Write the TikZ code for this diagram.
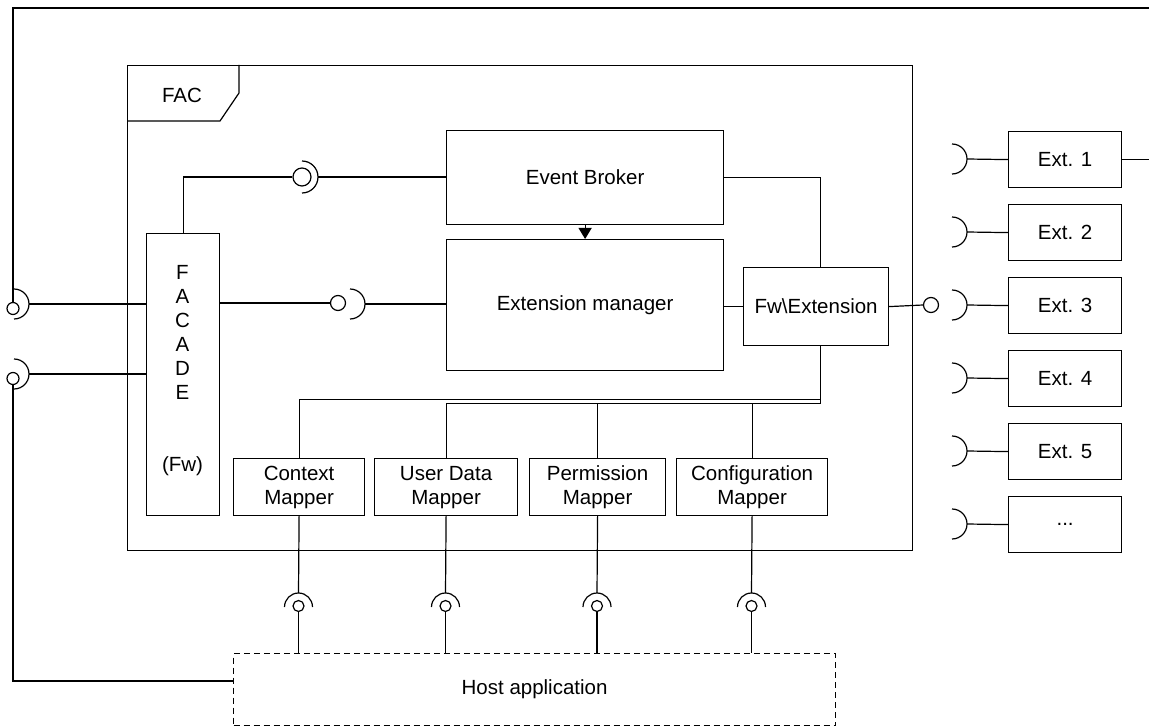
\documentclass[tikz,border=0pt]{standalone}
\usepackage{fontspec}
\setmainfont{Liberation Sans}
\usetikzlibrary{arrows.meta}
\newcommand\sockR[4]{\draw[ln] (#2,#3-#4) arc[start angle=90,end angle=-90,radius=#4pt]; \coordinate (#1) at (#2+#4,#3);}
\newcommand\sockU[4]{\draw[ln] (#2-#4,#3) arc[start angle=180,end angle=0,radius=#4pt]; \coordinate (#1) at (#2,#3-#4);}
\begin{document}
\begin{tikzpicture}[x=1pt,y=-1pt,
  ln/.style={line width=1.2pt},
  txt/.style={font=\fontsize{20.5}{24}\selectfont},
  box/.style={draw,ln,inner sep=0pt,anchor=north west,align=center,txt},
  ball/.style={draw,ln,circle,inner sep=0pt,minimum size=#1},
  ball/.default=12pt]
\useasboundingbox (0,0) rectangle (1149,727);

% FAC frame
\node[box,minimum width=785pt,minimum height=485pt] (fac) at (127,65) {};
\draw[ln] (239,65) -- (239,93) -- (220,121) -- (127,121);
\node[txt] (faclbl) at (182,95) {FAC};

% main boxes
\node[box,minimum width=277pt,minimum height=94pt] (eb) at (446,130) {Event Broker};
\node[box,minimum width=277pt,minimum height=131pt] (em) at (446,239) {Extension manager};
\node[box,minimum width=145pt,minimum height=78pt] (fwx) at (743,267) {Fw\textbackslash Extension};
\node[box,minimum width=73pt,minimum height=282pt] (facade) at (146,233) {};
\node[txt,align=center,inner sep=0pt] (facadetxt) at (182.5,371) {F\\A\\C\\A\\D\\E\\\mbox{}\\\mbox{}\\(Fw)};

\node[box,minimum width=131pt,minimum height=57pt] (ctx) at (233,458) {Context\\Mapper};
\node[box,minimum width=143pt,minimum height=57pt] (usr) at (374,458) {User Data\\Mapper};
\node[box,minimum width=136pt,minimum height=57pt] (perm) at (529,458) {Permission\\Mapper};
\node[box,minimum width=151pt,minimum height=57pt] (conf) at (676,458) {Configuration\\Mapper};

\node[box,dash pattern=on 6pt off 4pt,minimum width=602pt,minimum height=72pt] (host) at (233,653) {Host application};

% external boxes and their sockets
\foreach \k in {1,2,3,4,5}{
  \pgfmathsetmacro\yy{159+73*(\k-1)}
  \node[box,minimum width=113pt,minimum height=56pt] (ext\k) at (1008,\yy-28) {Ext. \k};
  \sockR{sx\k}{952}{\yy}{15}
  \draw[ln] (sx\k) -- (ext\k.west);
}
\node[box,minimum width=113pt,minimum height=56pt] (ext6) at (1008,496) {.{}.{}.};
\sockR{sx6}{952}{524}{15}
\draw[ln] (sx6) -- (ext6.west);

% left side sockets
\node[ball=12pt] (L1) at (13,308.5) {};
\node[ball=12pt] (L2) at (13,378.5) {};
\sockR{s1}{14}{304}{15}
\sockR{s2}{14}{374}{15}
\draw[ln] (s1) -- (s1 -| facade.west);
\draw[ln] (s2) -- (s2 -| facade.west);
\coordinate (hostin) at (233,681);
\draw[ln] (L2.south) |- (hostin);
\draw[ln] (L1.north) |- (1170,8) |- (ext1.east);

% facade to event broker
\node[ball=18pt] (B1) at (302,177) {};
\sockR{sb1}{302}{177}{16}
\draw[ln] (facade.north) |- (B1.west);
\draw[ln] (sb1) -- (sb1 -| eb.west);

% facade to extension manager
\node[ball=15pt] (B2) at (338,303) {};
\sockR{sb2}{350}{304}{15}
\draw[ln] (B2.west -| facade.east) -- (B2.west);
\draw[ln] (sb2) -- (sb2 -| em.west);

% extension manager / fw extension
\draw[ln] (fwx.west -| em.east) -- (fwx.west);
\draw[ln,-{Triangle[length=11pt,width=13pt]}] (eb.south) -- (em.north);
\draw[ln] (eb.east) -| ([xshift=4.5pt]fwx.north);

% fw extension to ext 3
\node[ball=15pt] (BX) at (931,305) {};
\draw[ln] (fwx.east) -- (BX.west);

% fw extension to mappers
\draw[ln] ([xshift=4.5pt]fwx.south) -- ++(0,53) -| (ctx.north);
\draw[ln] ([xshift=4.5pt]fwx.south) -- ++(0,57) -| (usr.north);
\draw[ln] ([xshift=4.5pt]fwx.south) -- ++(0,57) -| (perm.north);
\draw[ln] ([xshift=4.5pt]fwx.south) -- ++(0,57) -| (conf.north);

% mapper sockets to host
\foreach \m/\x in {ctx/298.5,usr/445.5,perm/597,conf/751.5}{
  \sockU{su\m}{\x}{607}{14}
  \node[ball=11pt] (bu\m) at (\x,606) {};
  \draw[ln] (\m.south) -- (su\m);
  \draw[ln] (bu\m.south) -- (bu\m.south |- host.north);
}
\end{tikzpicture}
\end{document}
